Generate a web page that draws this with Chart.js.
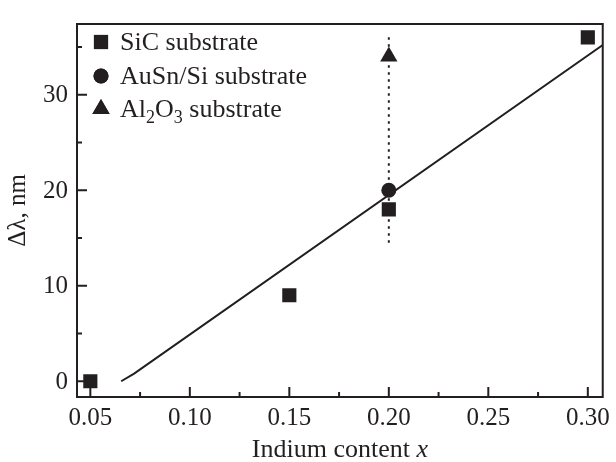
<!DOCTYPE html>
<html>
<head>
<meta charset="utf-8">
<script src="https://cdn.jsdelivr.net/npm/chart.js@4.4.1/dist/chart.umd.min.js"></script>
<style>
  body { margin: 0; background: #fff; }
  canvas { display: block; }
</style>
</head>
<body>
<canvas id="chart" width="616" height="462"></canvas>
<script>
// values
const sicX = [0.05, 0.15, 0.20, 0.30];
const sicY = [0, 9, 18, 36];
const ausnX = [0.20];
const ausnY = [20];
const al2o3X = [0.20];
const al2o3Y = [34];
const fitX = [0.0655, 0.072, 0.3075];
const fitY = [0, 0.8, 35.2];
const spreadX = [0.20, 0.20];
const spreadY = [14.5, 36.2];

const xTicks = [0.05, 0.10, 0.15, 0.20, 0.25, 0.30];
const xMinor = [0.075, 0.125, 0.175, 0.225, 0.275];
const yTicks = [0, 10, 20, 30];
const yMinor = [5, 15, 25, 35];

const legendNames = ['SiC substrate', 'AuSn/Si substrate', 'Al2O3 substrate'];

const ink = '#231f20';
const serif = "'Liberation Serif', 'Times New Roman', serif";

const pts = (xs, ys) => xs.map((v, i) => ({x: v, y: ys[i]}));

// frame, inward ticks, x title with italic x, legend inside the plot
const decor = {
    id: 'decor',
    afterDraw(chart) {
        const {ctx, chartArea: a, scales: {x, y}} = chart;
        ctx.save();
        ctx.strokeStyle = ink;
        ctx.lineWidth = 2;
        ctx.strokeRect(a.left, a.top, a.right - a.left, a.bottom - a.top);

        ctx.beginPath();
        xTicks.forEach(v => { const p = x.getPixelForValue(v); ctx.moveTo(p, a.bottom); ctx.lineTo(p, a.bottom - 10); });
        xMinor.forEach(v => { const p = x.getPixelForValue(v); ctx.moveTo(p, a.bottom); ctx.lineTo(p, a.bottom - 5); });
        yTicks.forEach(v => { const p = y.getPixelForValue(v); ctx.moveTo(a.left, p); ctx.lineTo(a.left + 10, p); });
        yMinor.forEach(v => { const p = y.getPixelForValue(v); ctx.moveTo(a.left, p); ctx.lineTo(a.left + 5, p); });
        ctx.stroke();

        // x axis title
        ctx.fillStyle = ink;
        ctx.textBaseline = 'alphabetic';
        const t1 = 'Indium content ';
        ctx.font = 'italic 26px ' + serif;
        const w2 = ctx.measureText('x').width;
        ctx.font = '26px ' + serif;
        const w1 = ctx.measureText(t1).width;
        const cx = (a.left + a.right) / 2;
        let tx = cx - (w1 + w2) / 2;
        ctx.fillText(t1, tx, 457);
        ctx.font = 'italic 26px ' + serif;
        ctx.fillText('x', tx + w1, 457);

        // legend
        const rows = [42, 76, 109];
        const styles = ['rect', 'circle', 'triangle'];
        const radii = [10, 7.5, 10];
        rows.forEach((ry, i) => {
            ctx.fillStyle = ink;
            if (Chart.helpers && Chart.helpers.drawPoint) {
                Chart.helpers.drawPoint(ctx, {pointStyle: styles[i], radius: radii[i], borderWidth: 0}, 101, ry);
                ctx.fill();
            }
            let lx = 120;
            const by = ry + 8;
            ctx.font = '26px ' + serif;
            if (i === 2) {
                // Al2O3 with subscripts
                const parts = [['Al', 0], ['2', 1], ['O', 0], ['3', 1], [' substrate', 0]];
                parts.forEach(([s, sub]) => {
                    ctx.font = (sub ? '18px ' : '26px ') + serif;
                    ctx.fillText(s, lx, by + (sub ? 6 : 0));
                    lx += ctx.measureText(s).width;
                });
            } else {
                ctx.fillText(legendNames[i], lx, by);
            }
        });
        ctx.restore();
    }
};

new Chart(document.getElementById('chart'), {
    type: 'scatter',
    data: {
        datasets: [
            {
                label: 'fit',
                data: pts(fitX, fitY),
                showLine: true,
                borderColor: ink,
                borderWidth: 2,
                pointRadius: 0,
                order: 5,
            },
            {
                label: 'spread',
                data: pts(spreadX, spreadY),
                showLine: true,
                borderColor: ink,
                borderWidth: 2,
                borderDash: [2.5, 4.5],
                pointRadius: 0,
                order: 4,
            },
            {
                label: legendNames[0],
                data: pts(sicX, sicY),
                pointStyle: 'rect',
                pointRadius: 10,
                backgroundColor: ink,
                borderWidth: 0,
                order: 1,
            },
            {
                label: legendNames[1],
                data: pts(ausnX, ausnY),
                pointStyle: 'circle',
                pointRadius: 7.5,
                backgroundColor: ink,
                borderWidth: 0,
                order: 2,
            },
            {
                label: legendNames[2],
                data: pts(al2o3X, al2o3Y),
                pointStyle: 'triangle',
                pointRadius: 10,
                backgroundColor: ink,
                borderWidth: 0,
                order: 3,
            },
        ]
    },
    options: {
        responsive: false,
        animation: false,
        events: [],
        layout: {padding: {top: 12, right: 11, left: 0, bottom: 0}},
        plugins: {legend: {display: false}, tooltip: {enabled: false}},
        scales: {
            x: {
                type: 'linear',
                min: 0.0433,
                max: 0.3075,
                afterBuildTicks: s => { s.ticks = xTicks.map(v => ({value: v})); },
                afterFit: s => { s.height = 65; },
                grid: {display: false, drawTicks: false},
                border: {display: false},
                ticks: {
                    color: ink,
                    padding: 6,
                    maxRotation: 0,
                    font: {family: serif, size: 25},
                    callback: v => v.toFixed(2),
                },
            },
            y: {
                min: -1.65,
                max: 37.4,
                afterBuildTicks: s => { s.ticks = yTicks.map(v => ({value: v})); },
                afterFit: s => { s.width = 77; },
                grid: {display: false, drawTicks: false},
                border: {display: false},
                ticks: {
                    color: ink,
                    padding: 9,
                    labelOffset: 1,
                    font: {family: serif, size: 25},
                },
                title: {
                    display: true,
                    text: 'Δλ, nm',
                    color: ink,
                    padding: {top: 3, bottom: 0},
                    font: {family: serif, size: 25},
                },
            },
        },
    },
    plugins: [decor],
});
</script>
</body>
</html>
